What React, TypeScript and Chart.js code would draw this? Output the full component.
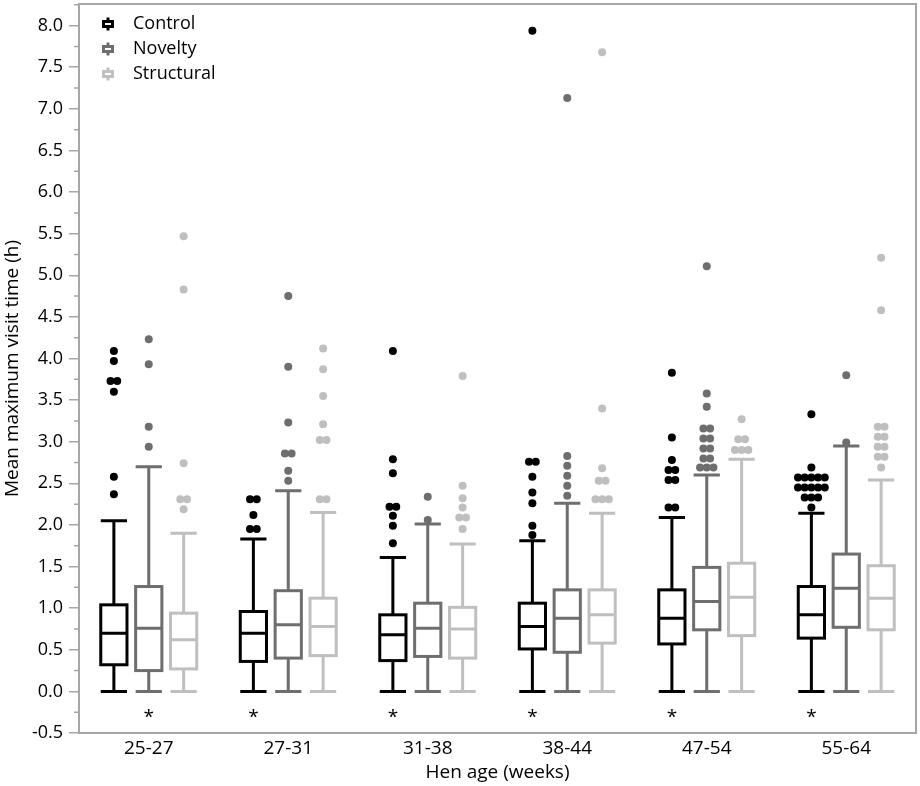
import React, { useEffect, useRef } from 'react';
import { Chart, registerables } from 'chart.js';

Chart.register(...registerables);

// ---------- data ----------
const categories = ['25-27', '27-31', '31-38', '38-44', '47-54', '55-64'];
const seriesNames = ['Control', 'Novelty', 'Structural'];
const seriesColors = ['#000000', '#6e6e6e', '#bfbfbf'];
const yTickLabels = ['-0.5', '0.0', '0.5', '1.0', '1.5', '2.0', '2.5', '3.0', '3.5', '4.0', '4.5', '5.0', '5.5', '6.0', '6.5', '7.0', '7.5', '8.0'];

const controlLow = [0, 0, 0, 0, 0, 0];
const controlQ1 = [0.32, 0.36, 0.37, 0.51, 0.57, 0.64];
const controlMedian = [0.7, 0.7, 0.68, 0.78, 0.88, 0.92];
const controlQ3 = [1.04, 0.96, 0.92, 1.06, 1.22, 1.26];
const controlHigh = [2.05, 1.83, 1.61, 1.81, 2.09, 2.14];
const controlOutliers = [
  [4.09, 3.97, 3.73, 3.73, 3.6, 2.58, 2.37],
  [2.31, 2.31, 2.12, 1.95, 1.95],
  [4.09, 2.79, 2.62, 2.22, 2.22, 2.11, 1.99, 1.78],
  [7.94, 2.76, 2.76, 2.58, 2.39, 2.26, 1.99, 1.88],
  [3.83, 3.05, 2.78, 2.66, 2.66, 2.54, 2.54, 2.21, 2.21],
  [3.33, 2.69, 2.57, 2.57, 2.57, 2.57, 2.57, 2.45, 2.45, 2.45, 2.45, 2.45, 2.33, 2.33, 2.33, 2.21],
];

const noveltyLow = [0, 0, 0, 0, 0, 0];
const noveltyQ1 = [0.25, 0.4, 0.42, 0.47, 0.74, 0.77];
const noveltyMedian = [0.76, 0.8, 0.76, 0.88, 1.08, 1.24];
const noveltyQ3 = [1.26, 1.21, 1.06, 1.22, 1.49, 1.65];
const noveltyHigh = [2.7, 2.41, 2.01, 2.26, 2.6, 2.95];
const noveltyOutliers = [
  [4.23, 3.93, 3.18, 2.94],
  [4.75, 3.9, 3.23, 2.86, 2.86, 2.65, 2.53],
  [2.34, 2.06],
  [7.13, 2.83, 2.71, 2.59, 2.47, 2.35],
  [5.11, 3.58, 3.42, 3.16, 3.16, 3.04, 3.04, 2.92, 2.92, 2.8, 2.8, 2.69, 2.69, 2.69],
  [3.8, 2.99],
];

const structuralLow = [0, 0, 0, 0, 0, 0];
const structuralQ1 = [0.27, 0.43, 0.4, 0.58, 0.67, 0.74];
const structuralMedian = [0.62, 0.78, 0.75, 0.92, 1.13, 1.12];
const structuralQ3 = [0.94, 1.12, 1.01, 1.22, 1.54, 1.51];
const structuralHigh = [1.9, 2.15, 1.77, 2.14, 2.79, 2.54];
const structuralOutliers = [
  [5.47, 4.83, 2.74, 2.31, 2.31, 2.19],
  [4.12, 3.87, 3.55, 3.21, 3.02, 3.02, 2.31, 2.31],
  [3.79, 2.47, 2.32, 2.21, 2.09, 2.09, 1.95],
  [7.68, 3.4, 2.68, 2.53, 2.53, 2.31, 2.31, 2.31],
  [3.27, 3.03, 3.03, 2.9, 2.9, 2.9],
  [5.21, 4.58, 3.18, 3.18, 3.06, 3.06, 2.94, 2.94, 2.82, 2.82, 2.69],
];

// series index under which a significance asterisk is shown, per category
const significanceSeries = [1, 0, 0, 0, 0, 0];
const significanceLabel = '*';

// ---------- styling constants ----------
const FONT = "'Open Sans', 'Noto Sans', sans-serif";
const FRAME = '#a6a6a6';
const Y_MIN = -0.5;
const Y_MAX = 8.26;
const SERIES_OFFSET = 0.25; // in category units
const BOX_HALF = 0.094;
const CAP_HALF = 0.094;
const DOT_STEP = 0.048;
const ASTERISK_Y = -0.27;

const stats = [
  { low: controlLow, q1: controlQ1, med: controlMedian, q3: controlQ3, high: controlHigh, out: controlOutliers },
  { low: noveltyLow, q1: noveltyQ1, med: noveltyMedian, q3: noveltyQ3, high: noveltyHigh, out: noveltyOutliers },
  { low: structuralLow, q1: structuralQ1, med: structuralMedian, q3: structuralQ3, high: structuralHigh, out: structuralOutliers },
];

function seriesX(catIndex: number, s: number) {
  return catIndex + 1 + (s - 1) * SERIES_OFFSET;
}

function outlierPoints(s: number) {
  const pts: { x: number; y: number }[] = [];
  stats[s].out.forEach((vals, ci) => {
    const counts = new Map<number, number>();
    vals.forEach((v) => counts.set(v, (counts.get(v) || 0) + 1));
    counts.forEach((n, v) => {
      for (let k = 0; k < n; k++) {
        pts.push({ x: seriesX(ci, s) + (k - (n - 1) / 2) * DOT_STEP, y: v });
      }
    });
  });
  return pts;
}

const boxPlugin = {
  id: 'boxes',
  beforeDatasetsDraw(chart: any) {
    const { ctx } = chart;
    const xs = chart.scales.x;
    const ys = chart.scales.y;
    ctx.save();
    ctx.lineWidth = 3;
    ctx.lineCap = 'butt';
    stats.forEach((st, s) => {
      ctx.strokeStyle = seriesColors[s];
      categories.forEach((_, ci) => {
        const cx = xs.getPixelForValue(seriesX(ci, s));
        const bl = xs.getPixelForValue(seriesX(ci, s) - BOX_HALF);
        const br = xs.getPixelForValue(seriesX(ci, s) + BOX_HALF);
        const cl = xs.getPixelForValue(seriesX(ci, s) - CAP_HALF);
        const cr = xs.getPixelForValue(seriesX(ci, s) + CAP_HALF);
        const yLow = ys.getPixelForValue(st.low[ci]);
        const yQ1 = ys.getPixelForValue(st.q1[ci]);
        const yMed = ys.getPixelForValue(st.med[ci]);
        const yQ3 = ys.getPixelForValue(st.q3[ci]);
        const yHigh = ys.getPixelForValue(st.high[ci]);
        ctx.beginPath();
        ctx.moveTo(cx, yLow);
        ctx.lineTo(cx, yQ1);
        ctx.moveTo(cx, yQ3);
        ctx.lineTo(cx, yHigh);
        ctx.moveTo(cl, yLow);
        ctx.lineTo(cr, yLow);
        ctx.moveTo(cl, yHigh);
        ctx.lineTo(cr, yHigh);
        ctx.moveTo(bl, yMed);
        ctx.lineTo(br, yMed);
        ctx.stroke();
        ctx.strokeRect(bl, yQ3, br - bl, yQ1 - yQ3);
      });
    });
    // significance asterisks
    ctx.fillStyle = '#000';
    ctx.font = `19px ${FONT}`;
    ctx.textAlign = 'center';
    ctx.textBaseline = 'alphabetic';
    significanceSeries.forEach((s, ci) => {
      const x = xs.getPixelForValue(seriesX(ci, s));
      const y = ys.getPixelForValue(ASTERISK_Y);
      ctx.fillText(significanceLabel, x, y + 9);
    });
    ctx.restore();
  },
  afterDraw(chart: any) {
    const { ctx, chartArea } = chart;
    const ys = chart.scales.y;
    ctx.save();
    // frame
    ctx.strokeStyle = FRAME;
    ctx.lineWidth = 2;
    ctx.strokeRect(chartArea.left, chartArea.top, chartArea.right - chartArea.left, chartArea.bottom - chartArea.top);
    // minor ticks
    ctx.lineWidth = 1.5;
    ctx.beginPath();
    for (let i = 0; i < yTickLabels.length - 1; i++) {
      const v = (parseFloat(yTickLabels[i]) + parseFloat(yTickLabels[i + 1])) / 2;
      const y = ys.getPixelForValue(v);
      ctx.moveTo(chartArea.left - 5, y);
      ctx.lineTo(chartArea.left, y);
    }
    const vTop = parseFloat(yTickLabels[yTickLabels.length - 1]) + 0.25;
    if (vTop < Y_MAX) {
      const y = ys.getPixelForValue(vTop);
      ctx.moveTo(chartArea.left - 5, y);
      ctx.lineTo(chartArea.left, y);
    }
    ctx.stroke();
    // legend
    const lx = chartArea.left + 29;
    seriesNames.forEach((name, s) => {
      const ly = chartArea.top + 20 + s * 25;
      ctx.strokeStyle = seriesColors[s];
      ctx.lineWidth = 3;
      ctx.beginPath();
      ctx.moveTo(lx, ly - 6.5);
      ctx.lineTo(lx, ly - 2.5);
      ctx.moveTo(lx, ly + 2.5);
      ctx.lineTo(lx, ly + 6.5);
      ctx.stroke();
      ctx.strokeRect(lx - 4.5, ly - 2.5, 9, 5);
      ctx.fillStyle = '#000';
      ctx.font = `18px ${FONT}`;
      ctx.textAlign = 'left';
      ctx.textBaseline = 'middle';
      ctx.fillText(name, lx + 25, ly);
    });
    ctx.restore();
  },
};

export default function App() {
  const ref = useRef<HTMLCanvasElement | null>(null);
  useEffect(() => {
    if (!ref.current) return;
    const chart = new Chart(ref.current, {
      type: 'scatter',
      data: {
        datasets: seriesNames.map((name, s) => ({
          label: name,
          data: outlierPoints(s),
          backgroundColor: seriesColors[s],
          borderWidth: 0,
          pointRadius: 4,
          pointHoverRadius: 4,
        })),
      },
      options: {
        animation: false,
        responsive: false,
        layout: { padding: { top: 2, right: 4, left: 0, bottom: 0 } },
        plugins: { legend: { display: false }, tooltip: { enabled: false } },
        scales: {
          x: {
            type: 'linear',
            min: 0.5,
            max: 6.5,
            afterBuildTicks: (s: any) => {
              s.ticks = categories.map((_, i) => ({ value: i + 1 }));
            },
            afterFit: (s: any) => {
              s.height = 53;
              s.paddingLeft = 0;
              s.paddingRight = 0;
            },
            grid: { display: false, drawTicks: false },
            border: { display: false },
            ticks: {
              callback: (v: any) => categories[Math.round(v) - 1] ?? '',
              color: '#000',
              font: { family: FONT, size: 19 },
              padding: 4,
              maxRotation: 0,
              autoSkip: false,
            },
            title: {
              display: true,
              text: 'Hen age (weeks)',
              color: '#000',
              font: { family: FONT, size: 19 },
              padding: { top: 0, bottom: 2 },
            },
          },
          y: {
            type: 'linear',
            min: Y_MIN,
            max: Y_MAX,
            afterBuildTicks: (s: any) => {
              s.ticks = yTickLabels.map((t) => ({ value: parseFloat(t) }));
            },
            afterFit: (s: any) => {
              s.width = 79;
              s.paddingTop = 0;
              s.paddingBottom = 0;
            },
            grid: {
              display: true,
              drawOnChartArea: false,
              drawTicks: true,
              tickLength: 10,
              color: FRAME,
              lineWidth: 1.5,
            },
            border: { display: false },
            ticks: {
              callback: (v: any) => yTickLabels.find((t) => parseFloat(t) === v) ?? '',
              color: '#000',
              font: { family: FONT, size: 18 },
              padding: 6,
              autoSkip: false,
            },
            title: {
              display: true,
              text: 'Mean maximum visit time (h)',
              color: '#000',
              font: { family: FONT, size: 19 },
              padding: { top: 1, bottom: 0 },
            },
          },
        },
      },
      plugins: [boxPlugin],
    } as any);
    return () => chart.destroy();
  }, []);
  return (
    <div style={{ position: 'absolute', left: 0, top: 0, width: 920, height: 786, background: '#fff' }}>
      <canvas ref={ref} width={920} height={786} style={{ display: 'block' }} />
    </div>
  );
}
